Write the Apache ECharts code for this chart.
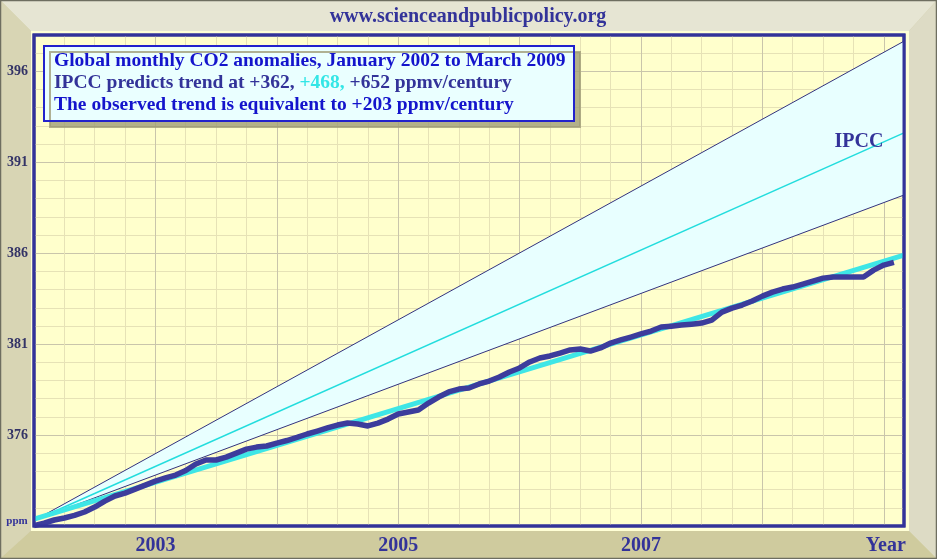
<!DOCTYPE html>
<html><head><meta charset="utf-8">
<script src="https://cdn.jsdelivr.net/npm/echarts@6/dist/echarts.min.js"></script>
<style>html,body{margin:0;padding:0;background:#d4d0a8}#c{width:937px;height:559px}</style>
</head><body><div id="c"></div>
<script>
// ---- data (month index 0 = January 2002) ----
const observed = [
  371.02, 371.16, 371.33, 371.44, 371.58, 371.77, 372.04, 372.37, 372.65, 372.81,
  373.03, 373.25, 373.47, 373.64, 373.80, 374.05, 374.41, 374.63, 374.63, 374.79,
  375.01, 375.23, 375.34, 375.40, 375.56, 375.70, 375.87, 376.06, 376.22, 376.39,
  376.55, 376.66, 376.61, 376.50, 376.66, 376.88, 377.16, 377.27, 377.38, 377.76,
  378.09, 378.37, 378.53, 378.59, 378.81, 378.97, 379.19, 379.47, 379.69, 380.02,
  380.24, 380.35, 380.51, 380.68, 380.73, 380.62, 380.79, 381.06, 381.23, 381.39,
  381.56, 381.72, 381.94, 381.99, 382.05, 382.10, 382.16, 382.32, 382.76, 382.98,
  383.15, 383.37, 383.64, 383.86, 384.03, 384.14, 384.30, 384.47, 384.63, 384.69,
  384.69, 384.69, 384.69, 385.07, 385.35, 385.50
];
const lineMonths = [0, 86];
const ipccUpper = [371.3, 397.66];
const ipccMid = [371.3, 392.62];
const ipccLower = [371.3, 389.2];
const observedTrend = [371.38, 385.9];
const yearLabels = ['2003', '2005', '2007', 'Year'];
const yearLabelPos = [12, 36, 60, 84.2];
const yLabelValues = [376, 381, 386, 391, 396];
const titleText = 'www.scienceandpublicpolicy.org';
const boxLine1 = 'Global monthly CO2 anomalies, January 2002 to March 2009';
const boxLine2a = 'IPCC predicts trend at +362, ';
const boxLine2b = '+468,';
const boxLine2c = ' +652 ppmv/century';
const boxLine3 = 'The observed trend is equivalent to +203 ppmv/century';
const bandLabel = 'IPCC';
const yUnit = 'ppm';

// ---- build ----
const SERIF = '"Liberation Serif","DejaVu Serif",serif';
const pairs = (ys) => lineMonths.map((m, i) => [m, ys[i]]);
const obsData = observed.map((v, i) => [i, v]);

const chart = echarts.init(document.getElementById('c'), null, {renderer: 'canvas'});
const MAJOR = '#c9c5ab', MINOR = '#e6e2b6';
const BOXFONT = 'bold 19.5px ' + SERIF;
chart.setOption({
  animation: false,
  backgroundColor: '#d4d0a8',
  grid: {left: 34, right: 33, top: 35, bottom: 33, show: true,
         backgroundColor: '#ffffcc', borderColor: '#333399', borderWidth: 3},
  xAxis: {
    type: 'value', min: 0, max: 86, interval: 3,
    axisLine: {show: false}, axisTick: {show: false},
    splitLine: {show: true, lineStyle: {color: [MAJOR, MINOR, MINOR, MINOR], width: 1}},
    axisLabel: {
      customValues: yearLabelPos, margin: 10,
      formatter: (v) => { let k = 0, b = 1e9; yearLabelPos.forEach((p, i) => { if (Math.abs(p - v) < b) { b = Math.abs(p - v); k = i; } }); return yearLabels[k]; },
      color: '#333399', fontFamily: SERIF, fontWeight: 'bold', fontSize: 20
    }
  },
  yAxis: {
    type: 'value', min: 371, max: 398, interval: 1,
    axisLine: {show: false}, axisTick: {show: false},
    splitLine: {show: true, lineStyle: {color: [MAJOR, MINOR, MINOR, MINOR, MINOR], width: 1}},
    axisLabel: {
      margin: 6,
      formatter: (v) => yLabelValues.indexOf(Math.round(v)) >= 0 ? String(Math.round(v)) : '',
      color: '#333366', fontFamily: SERIF, fontWeight: 'bold', fontSize: 14
    }
  },
  series: [
    {type: 'custom', data: [[lineMonths[0], ipccLower[0]]], silent: true, z: 1,
     renderItem: (params, api) => {
       const pts = [];
       for (let i = 0; i < lineMonths.length; i++) pts.push(api.coord([lineMonths[i], ipccUpper[i]]));
       for (let i = lineMonths.length - 1; i >= 0; i--) pts.push(api.coord([lineMonths[i], ipccLower[i]]));
       return {type: 'polygon', shape: {points: pts}, style: {fill: '#e8ffff'}};
     }},
    {type: 'line', data: pairs(ipccUpper), symbol: 'none', lineStyle: {color: '#33337f', width: 1}, z: 3},
    {type: 'line', data: pairs(ipccLower), symbol: 'none', lineStyle: {color: '#33337f', width: 1}, z: 3},
    {type: 'line', data: pairs(ipccMid), symbol: 'none', lineStyle: {color: '#22dddd', width: 1.5}, z: 3},
    {type: 'line', data: pairs(observedTrend), symbol: 'none', lineStyle: {color: '#3ee6e6', width: 5}, z: 4},
    {type: 'line', data: obsData, symbol: 'none', lineStyle: {color: '#3c3c9c', width: 5.5, join: 'round'}, z: 5}
  ],
  graphic: [
    {type: 'polygon', z: -100, shape: {points: [[0,0],[937,0],[909,31],[31,31]]}, style: {fill: '#e6e5d3'}},
    {type: 'polygon', z: -100, shape: {points: [[0,0],[31,31],[31,531],[0,559]]}, style: {fill: '#d8d5b4'}},
    {type: 'polygon', z: -100, shape: {points: [[937,0],[937,559],[909,531],[909,31]]}, style: {fill: '#dddbc5'}},
    {type: 'polygon', z: -100, shape: {points: [[0,559],[31,531],[909,531],[937,559]]}, style: {fill: '#cfcb9e'}},
    {type: 'rect', z: -100, shape: {x: 0.5, y: 0.5, width: 936, height: 558}, style: {fill: null, stroke: '#6e6e60', lineWidth: 1.5}},
    {type: 'rect', z: -99, shape: {x: 31, y: 31, width: 878, height: 500}, style: {fill: '#ffffd6'}},
    {type: 'rect', z: 50, silent: true, shape: {x: 34, y: 35, width: 870, height: 491}, style: {fill: null, stroke: '#333399', lineWidth: 3}},
    {type: 'text', z: 100, x: 468, y: 17, style: {text: titleText, fill: '#333399', font: 'bold 20px ' + SERIF, textAlign: 'center', textVerticalAlign: 'middle'}},
    {type: 'text', z: 100, x: 17, y: 521, style: {text: yUnit, fill: '#333399', font: 'bold 11px ' + SERIF, textAlign: 'center', textVerticalAlign: 'middle'}},
    {type: 'text', z: 100, x: 859, y: 142, style: {text: bandLabel, fill: '#333399', font: 'bold 20px ' + SERIF, textAlign: 'center', textVerticalAlign: 'middle'}},
    {type: 'rect', z: 100, shape: {x: 44, y: 46, width: 530, height: 75},
     style: {fill: '#eaffff', stroke: '#2222cc', lineWidth: 2, shadowColor: 'rgba(160,158,120,0.8)', shadowOffsetX: 6, shadowOffsetY: 6, shadowBlur: 0}},
    {type: 'text', z: 101, x: 54, y: 61, style: {text: boxLine1, fill: '#1414cc', font: BOXFONT, textAlign: 'left', textVerticalAlign: 'middle'}},
    {type: 'text', z: 101, x: 54, y: 83, style: {
      text: '{a|' + boxLine2a + '}{b|' + boxLine2b + '}{a|' + boxLine2c + '}',
      textAlign: 'left', textVerticalAlign: 'middle',
      rich: {a: {fill: '#333399', font: BOXFONT}, b: {fill: '#33e6e6', font: BOXFONT}}}},
    {type: 'text', z: 101, x: 54, y: 105, style: {text: boxLine3, fill: '#1414cc', font: BOXFONT, textAlign: 'left', textVerticalAlign: 'middle'}}
  ]
});
</script>
</body></html>
